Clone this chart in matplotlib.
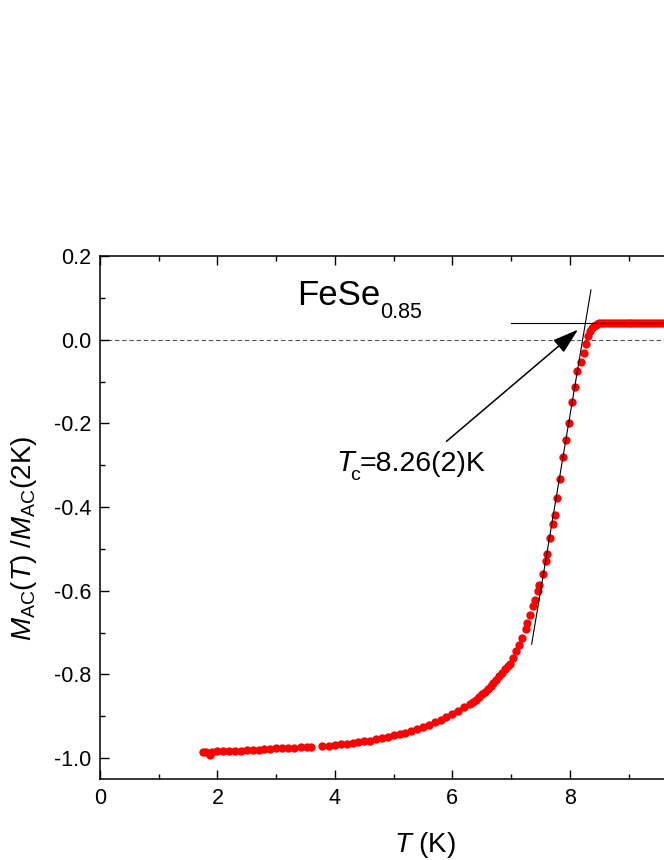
import matplotlib
matplotlib.use("Agg")
import matplotlib.pyplot as plt
from matplotlib.ticker import MultipleLocator

plt.rcParams["font.family"] = ["Liberation Sans", "DejaVu Sans"]
plt.rcParams["mathtext.fontset"] = "custom"
plt.rcParams["mathtext.rm"] = "Liberation Sans"
plt.rcParams["mathtext.it"] = "Liberation Sans:italic"
plt.rcParams["mathtext.bf"] = "Liberation Sans:bold"

# temperature (K) and normalised AC magnetisation
temp_k = [
    1.75, 1.80, 1.87, 1.90, 2.00, 2.10, 2.20, 2.30, 2.40, 2.50, 2.60, 2.70,
    2.80, 2.90, 3.00, 3.10, 3.20, 3.30, 3.43, 3.52, 3.60, 3.78, 3.90, 4.00,
    4.10, 4.20, 4.30, 4.40, 4.50, 4.60, 4.70, 4.80, 4.90, 5.00, 5.10, 5.20,
    5.30, 5.40, 5.50, 5.60, 5.70, 5.80, 5.90, 6.00, 6.10, 6.20, 6.30, 6.35,
    6.40, 6.45, 6.50, 6.55, 6.60, 6.65, 6.70, 6.75, 6.80, 6.85, 6.90, 6.95,
    6.98, 7.03, 7.09, 7.14, 7.19, 7.25, 7.27, 7.33, 7.38, 7.41, 7.46, 7.48,
    7.54, 7.59, 7.61, 7.67, 7.71, 7.74, 7.78, 7.84, 7.89, 7.94, 7.98, 8.03,
    8.09, 8.13, 8.19, 8.24, 8.28, 8.31, 8.35, 8.38, 8.41, 8.44, 8.47, 8.50,
    8.55, 8.60, 8.65, 8.70, 8.75, 8.80, 8.85, 8.90, 8.95, 9.00, 9.05, 9.10,
    9.15, 9.20, 9.25, 9.30, 9.35, 9.40, 9.45, 9.50, 9.55, 9.60, 9.65, 9.70,
    9.75, 9.80, 9.85, 9.90, 9.95, 10.00,
]
m_ratio = [
    -0.985, -0.986, -0.993, -0.985, -0.984, -0.984, -0.983, -0.982, -0.982, -0.981, -0.980, -0.980,
    -0.979, -0.978, -0.977, -0.977, -0.976, -0.975, -0.974, -0.974, -0.973, -0.972, -0.970, -0.969,
    -0.967, -0.966, -0.964, -0.962, -0.960, -0.958, -0.955, -0.952, -0.949, -0.946, -0.942, -0.939,
    -0.935, -0.930, -0.925, -0.920, -0.914, -0.908, -0.902, -0.895, -0.887, -0.879, -0.870, -0.865,
    -0.860, -0.854, -0.848, -0.842, -0.835, -0.828, -0.821, -0.813, -0.805, -0.797, -0.788, -0.779,
    -0.776, -0.760, -0.744, -0.730, -0.714, -0.692, -0.678, -0.658, -0.637, -0.622, -0.601, -0.586,
    -0.559, -0.529, -0.512, -0.475, -0.441, -0.419, -0.378, -0.332, -0.280, -0.239, -0.198, -0.150,
    -0.112, -0.076, -0.053, -0.032, -0.010, 0.008, 0.020, 0.028, 0.033, 0.036, 0.038, 0.039,
    0.039, 0.039, 0.039, 0.039, 0.039, 0.039, 0.039, 0.039, 0.039, 0.039, 0.039, 0.039,
    0.039, 0.039, 0.039, 0.039, 0.039, 0.039, 0.039, 0.039, 0.039, 0.039, 0.039, 0.039,
    0.039, 0.039, 0.039, 0.039, 0.039, 0.039,
]

# construction lines used to find Tc
tangent_t = [7.35, 8.36]
tangent_m = [-0.728, 0.119]
onset_t = [7.0, 11.0]
onset_m = [0.039, 0.039]
arrow_tail = (5.90, -0.243)
arrow_head = (8.14, 0.024)


def plot_fese_tc() -> None:
    fig = plt.figure(figsize=(6.64, 8.60), dpi=100)
    ax = fig.add_axes([100 / 664, 81 / 860, 646 / 664, 523 / 860])

    ax.axhline(0.0, color="#555555", lw=0.8, ls=(0, (4, 2.5)), zorder=1)
    ax.plot(temp_k, m_ratio, "o", color="#ff0000", ms=6.0, mec="none", zorder=2)
    ax.plot(tangent_t, tangent_m, color="black", lw=0.8, zorder=3)
    ax.plot(onset_t, onset_m, color="black", lw=0.8, zorder=3)
    ax.annotate(
        "", xy=arrow_head, xytext=arrow_tail,
        arrowprops=dict(arrowstyle="-|>,head_length=0.8,head_width=0.25",
                        color="black", lw=1.1, mutation_scale=20,
                        shrinkA=0, shrinkB=0),
        zorder=4,
    )

    ax.text(3.35, 0.0835, "FeSe", fontsize=25, va="baseline")
    ax.text(4.776, 0.0518, "0.85", fontsize=15.5, va="baseline")
    ax.text(4.03, -0.314, "T", fontsize=21, style="italic", va="baseline")
    ax.text(4.26, -0.336, "c", fontsize=14, va="baseline")
    ax.text(4.425, -0.314, "=8.26(2)K", fontsize=20.5, va="baseline")

    ax.set_xlim(0, 11)
    ax.set_ylim(-1.05, 0.2)
    ax.xaxis.set_major_locator(MultipleLocator(2))
    ax.xaxis.set_minor_locator(MultipleLocator(1))
    ax.yaxis.set_major_locator(MultipleLocator(0.2))
    ax.yaxis.set_minor_locator(MultipleLocator(0.1))
    ax.yaxis.set_major_formatter(lambda v, pos: f"{v:.1f}")
    ax.tick_params(which="both", direction="in", top=True, right=True, width=1.0)
    ax.tick_params(which="major", length=6.5, labelsize=15.5, pad=6.5)
    ax.tick_params(which="minor", length=3.5)
    for spine in ax.spines.values():
        spine.set_linewidth(1.1)

    fig.text(425 / 664, 1 - 851.7 / 860, r"$T$ (K)", fontsize=20,
             ha="center", va="baseline")
    fig.text(24 / 664, 1 - 538 / 860,
             r"$M_{\mathrm{AC}}(T)$ /$M_{\mathrm{AC}}$(2K)", fontsize=20,
             rotation=90, ha="center", va="center")

    fig.savefig("out.png", dpi=100)


if __name__ == "__main__":
    plot_fese_tc()
